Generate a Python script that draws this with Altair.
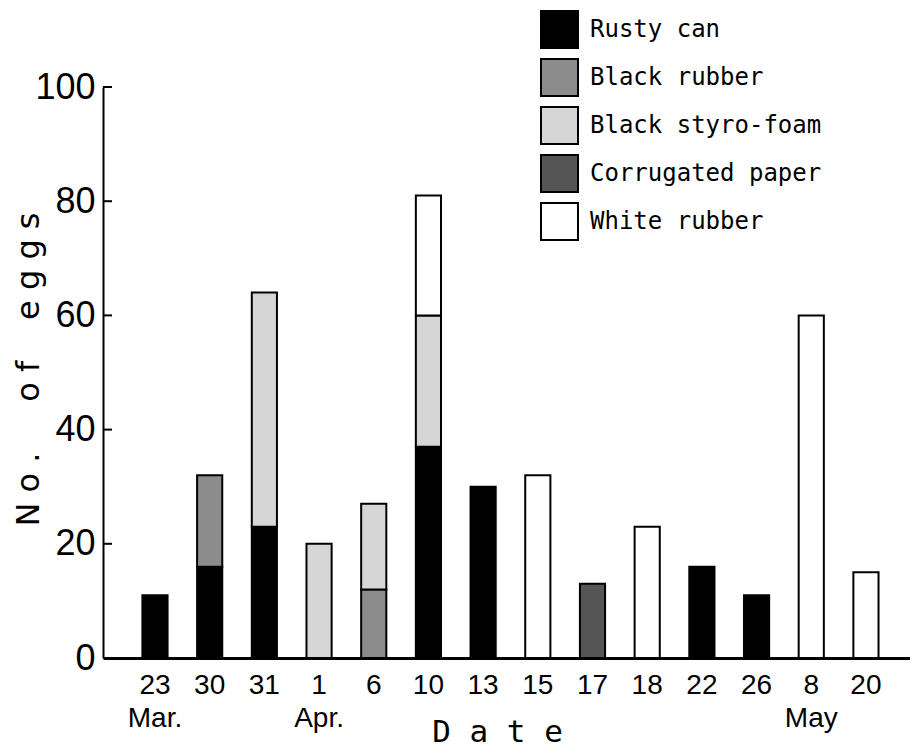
import altair as alt
import pandas as pd

dates = ["23|Mar.", "30", "31", "1|Apr.", "6", "10", "13", "15", "17", "18", "22", "26", "8|May", "20"]
materials = ["Rusty can", "Black rubber", "Black styro-foam", "Corrugated paper", "White rubber"]
rusty_can = [11, 16, 23, 0, 0, 37, 30, 0, 0, 0, 16, 11, 0, 0]
black_rubber = [0, 16, 0, 0, 12, 0, 0, 0, 0, 0, 0, 0, 0, 0]
black_styro = [0, 0, 41, 20, 15, 23, 0, 0, 0, 0, 0, 0, 0, 0]
corrugated = [0, 0, 0, 0, 0, 0, 0, 0, 13, 0, 0, 0, 0, 0]
white_rubber = [0, 0, 0, 0, 0, 21, 0, 32, 0, 23, 0, 0, 60, 15]
y_ticks = [0, 20, 40, 60, 80, 100]
colors = ["#000000", "#8c8c8c", "#d6d6d6", "#555555", "#ffffff"]

series = [rusty_can, black_rubber, black_styro, corrugated, white_rubber]
rows = []
for mi, (m, vals) in enumerate(zip(materials, series)):
    for d, v in zip(dates, vals):
        if v > 0:
            rows.append({"date": d, "material": m, "eggs": v, "ord": mi})
df = pd.DataFrame(rows)
tick_df = pd.DataFrame({"v": y_ticks[1:]})

mono = "DejaVu Sans Mono"
narrow = "Liberation Sans Narrow, Liberation Sans, sans-serif"
NB = "\u00a0"
y_title = NB.join(list("No.")) + NB * 5 + NB.join(list("of")) + NB * 4 + NB.join(list("eggs"))
x_title = NB.join(list("Date"))

y_scale = alt.Scale(domain=[0, 100])
y_axis = alt.Axis(title=y_title, values=y_ticks,
                  grid=False, ticks=False,
                  domainColor="black", domainWidth=2,
                  labelFont=narrow, labelFontSize=36, labelColor="black",
                  labelPadding=8,
                  titleFont="DejaVu Sans", titleFontSize=32, titleFontWeight="normal",
                  titleColor="black", titleX=-75, titleY=282,
                  titleBaseline="middle")

bars = alt.Chart(df).mark_bar(stroke="black", strokeWidth=2).encode(
    x=alt.X("date:N", sort=dates,
            scale=alt.Scale(paddingInner=0.54, paddingOuter=0.648, align=0.556),
            axis=alt.Axis(title=x_title, labelAngle=0, ticks=False,
                          labelExpr="split(datum.label, '|')",
                          labelFont=narrow, labelFontSize=28, labelColor="black",
                          labelPadding=13, labelLineHeight=33, labelBaseline="top",
                          domainColor="black", domainWidth=3,
                          titleFont=mono, titleFontSize=31, titleFontWeight="normal",
                          titleColor="black", titleX=394, titleY=83,
                          titleBaseline="alphabetic")),
    y=alt.Y("eggs:Q", stack="zero", scale=y_scale, axis=y_axis),
    fill=alt.Fill("material:N", sort=materials,
                  scale=alt.Scale(domain=materials, range=colors),
                  legend=alt.Legend(title=None, orient="none", legendX=437, legendY=-77,
                                    direction="vertical", symbolType="square",
                                    symbolSize=1369, symbolStrokeColor="black",
                                    symbolStrokeWidth=2, rowPadding=3,
                                    labelOffset=11, labelFont=mono, labelFontSize=24,
                                    labelColor="black", padding=0, labelLimit=400)),
    order=alt.Order("ord:Q"),
)

ticks = alt.Chart(tick_df).mark_rule(color="black", strokeWidth=2).encode(
    y=alt.Y("v:Q", scale=y_scale, title=y_title),
    x=alt.value(0),
    x2=alt.value(9),
)

chart = alt.layer(bars, ticks).properties(
    width=807, height=571,
    autosize=alt.AutoSizeParams(type="none"),
    padding={"left": 95, "top": 79, "right": 0, "bottom": 89},
    background="white",
).configure_view(stroke=None)

chart.save("out.html", embed_options={"renderer": "svg", "actions": False})
